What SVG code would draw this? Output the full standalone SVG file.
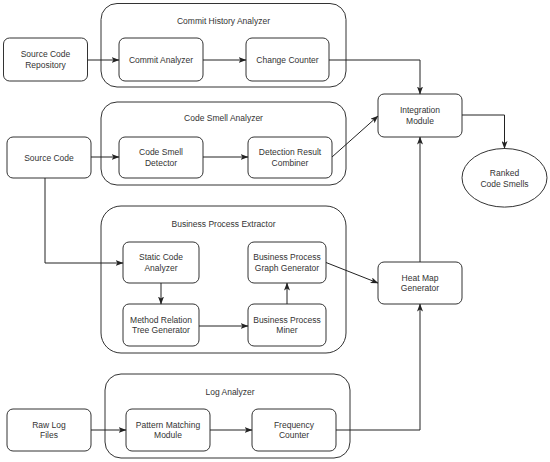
<svg xmlns="http://www.w3.org/2000/svg" width="550" height="462" viewBox="0 0 550 462">
<defs>
<marker id="arr" viewBox="0 0 8 6" refX="7.5" refY="3" markerWidth="8" markerHeight="6" markerUnits="userSpaceOnUse" orient="auto">
<path d="M0,0 L8,3 L0,6 L2,3 z" fill="#222"/>
</marker>
<style>
.c{fill:#fff;stroke:#333;stroke-width:1}
.b{fill:#fff;stroke:#333;stroke-width:1}
text{font-family:"Liberation Sans",Arial,sans-serif;font-size:8.5px;fill:#333;text-anchor:middle}
.e{fill:none;stroke:#222;stroke-width:1;marker-end:url(#arr)}
</style>
</defs>
<rect width="550" height="462" fill="#fff"/>
<g id="commit-history-analyzer">
<rect class="c" x="101" y="3.5" width="245" height="83.5" rx="16"/>
<text x="223.5" y="23.5">Commit History Analyzer</text>
</g>
<g id="code-smell-analyzer">
<rect class="c" x="101" y="102" width="245" height="83" rx="16"/>
<text x="223.5" y="121">Code Smell Analyzer</text>
</g>
<g id="business-process-extractor">
<rect class="c" x="101" y="206" width="245" height="147" rx="20"/>
<text x="223.5" y="227">Business Process Extractor</text>
</g>
<g id="log-analyzer">
<rect class="c" x="105" y="374" width="245" height="84" rx="16"/>
<text x="230" y="394.5">Log Analyzer</text>
</g>
<g id="source-code-repository">
<rect class="b" x="3.5" y="38" width="84" height="43" rx="6"/>
<text x="45.5" y="57.2">Source Code</text><text x="45.5" y="67.7">Repository</text>
</g>
<g id="commit-analyzer">
<rect class="b" x="119" y="38" width="84" height="43" rx="6"/>
<text x="161" y="62.5">Commit Analyzer</text>
</g>
<g id="change-counter">
<rect class="b" x="246" y="38" width="83" height="43" rx="6"/>
<text x="287.5" y="62.5">Change Counter</text>
</g>
<g id="source-code">
<rect class="b" x="7" y="137" width="84" height="41" rx="6"/>
<text x="49" y="160.5">Source Code</text>
</g>
<g id="code-smell-detector">
<rect class="b" x="119" y="137" width="84" height="41" rx="6"/>
<text x="161" y="155.2">Code Smell</text><text x="161" y="165.7">Detector</text>
</g>
<g id="detection-result-combiner">
<rect class="b" x="248" y="137" width="84" height="41" rx="6"/>
<text x="290" y="155.2">Detection Result</text><text x="290" y="165.7">Combiner</text>
</g>
<g id="integration-module">
<rect class="b" x="378" y="94" width="84" height="43" rx="6"/>
<text x="420" y="113.2">Integration</text><text x="420" y="123.7">Module</text>
</g>
<g id="ranked-code-smells">
<ellipse class="b" cx="504.5" cy="177.8" rx="42.5" ry="29.3"/>
<text x="504.5" y="176.3">Ranked</text><text x="504.5" y="186.6">Code Smells</text>
</g>
<g id="static-code-analyzer">
<rect class="b" x="123" y="242" width="76" height="41" rx="6"/>
<text x="161" y="260.2">Static Code</text><text x="161" y="270.7">Analyzer</text>
</g>
<g id="method-relation-tree-generator">
<rect class="b" x="123" y="304" width="76" height="42" rx="6"/>
<text x="161" y="322.7">Method Relation</text><text x="161" y="333.2">Tree Generator</text>
</g>
<g id="business-process-graph-generator">
<rect class="b" x="248" y="242" width="78" height="41" rx="6"/>
<text x="287" y="260.2">Business Process</text><text x="287" y="270.7">Graph Generator</text>
</g>
<g id="business-process-miner">
<rect class="b" x="248" y="304" width="78" height="42" rx="6"/>
<text x="287" y="322.7">Business Process</text><text x="287" y="333.2">Miner</text>
</g>
<g id="heat-map-generator">
<rect class="b" x="378" y="262" width="84" height="42" rx="6"/>
<text x="420" y="280.7">Heat Map</text><text x="420" y="291.2">Generator</text>
</g>
<g id="raw-log-files">
<rect class="b" x="7" y="409" width="84" height="42" rx="6"/>
<text x="49" y="427.7">Raw Log</text><text x="49" y="438.2">Files</text>
</g>
<g id="pattern-matching-module">
<rect class="b" x="126" y="409" width="84" height="42" rx="6"/>
<text x="168" y="427.7">Pattern Matching</text><text x="168" y="438.2">Module</text>
</g>
<g id="frequency-counter">
<rect class="b" x="252" y="409" width="84" height="42" rx="6"/>
<text x="294" y="427.7">Frequency</text><text x="294" y="438.2">Counter</text>
</g>
<g id="connectors">
<path class="e" d="M87.5,60 H119"/>
<path class="e" d="M203,60 H246"/>
<path class="e" d="M329,60 H420 V94"/>
<path class="e" d="M91,157 H119"/>
<path class="e" d="M203,157 H248"/>
<path class="e" d="M332,157 L378,116"/>
<path class="e" d="M462,115 H504.5 V148.5"/>
<path class="e" d="M45,178 V263 H123"/>
<path class="e" d="M161,283 V304"/>
<path class="e" d="M199,326 H248"/>
<path class="e" d="M287,304 V283"/>
<path class="e" d="M326,262.5 L378,283"/>
<path class="e" d="M420,262 V137"/>
<path class="e" d="M91,430 H126"/>
<path class="e" d="M210,430 H252"/>
<path class="e" d="M336,430 H420 V304"/>
</g>
</svg>
